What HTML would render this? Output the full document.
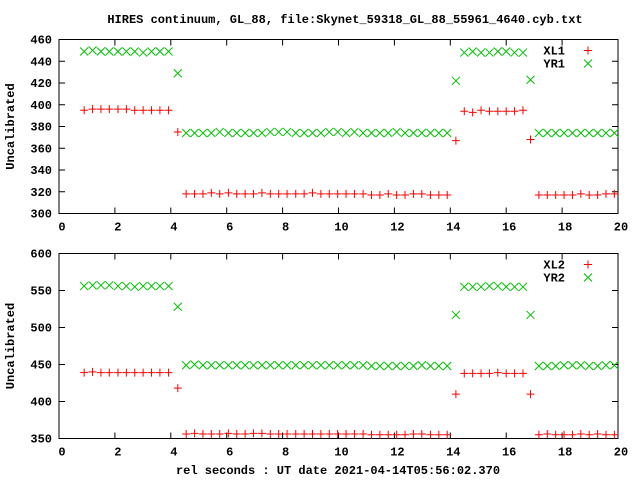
<!DOCTYPE html>
<html><head><meta charset="utf-8"><style>
html,body{margin:0;padding:0;background:#fff;}
svg{display:block;font-family:"Liberation Mono",monospace;font-weight:bold;font-size:12px;}
</style></head><body>
<svg id="chart" width="640" height="480" xmlns="http://www.w3.org/2000/svg">
<text x="345" y="23" text-anchor="middle">HIRES continuum, GL_88, file:Skynet_59318_GL_88_55961_4640.cyb.txt</text>
<text x="338" y="474" text-anchor="middle">rel seconds : UT date 2021-04-14T05:56:02.370</text>
<g id="p1"></g>
<g id="p2"></g>
</svg>
<script>
const times=[0.9,1.2,1.5,1.8,2.11,2.41,2.71,3.01,3.31,3.61,3.92,4.25,4.55,4.85,5.15,5.45,5.75,6.06,6.36,6.66,6.96,7.26,7.56,7.86,8.16,8.47,8.77,9.07,9.37,9.67,9.97,10.27,10.57,10.88,11.18,11.48,11.78,12.08,12.38,12.68,12.98,13.29,13.59,13.89,14.2,14.5,14.8,15.1,15.4,15.7,16.0,16.3,16.6,16.87,17.17,17.47,17.77,18.07,18.37,18.67,18.97,19.27,19.57,19.87];
const xl1=[395,396,396,396,396,396,395,395,395,395,395,375,318,318,318,319,318,319,318,318,318,319,318,318,318,318,318,319,318,318,318,318,318,318,317,317,318,317,317,318,318,317,317,317,367,394,393,395,394,394,394,394,395,368,317,317,317,317,317,318,317,317,318,318];
const yr1=[449,450,449,449,449,449,449,448,449,449,449,429,374,374,374,374,375,374,374,374,374,374,375,375,375,374,374,374,374,375,375,374,375,374,374,374,374,375,374,374,374,374,374,374,422,448,449,448,448,449,449,448,448,423,374,374,374,374,374,374,374,374,374,374];
const xl2=[439,440,439,439,439,439,439,439,439,439,439,418,356,357,356,356,356,357,356,356,357,357,356,356,356,356,356,356,356,356,356,356,356,356,355,355,355,355,355,356,356,355,355,355,410,438,438,438,438,439,438,438,438,410,355,356,355,355,355,356,355,356,355,355];
const yr2=[556,557,557,557,556,556,555,556,556,556,556,528,449,450,449,449,449,449,449,449,449,449,449,449,449,449,449,449,449,449,449,449,449,449,448,448,448,448,448,448,449,448,448,448,517,555,555,555,556,556,555,555,555,517,448,448,448,449,449,449,448,448,449,449];
const xTicks=[0,2,4,6,8,10,12,14,16,18,20];
const yTicks1=[300,320,340,360,380,400,420,440,460];
const yTicks2=[350,400,450,500,550,600];
const NS="http://www.w3.org/2000/svg";
function mk(p,tag,a){const e=document.createElementNS(NS,tag);for(const k in a)e.setAttribute(k,a[k]);p.appendChild(e);return e;}
function panel(g,top,bot,yt,s1,s2,n1,n2){
  const L=59,R=618;
  const X=v=>L+(v-0)/(20-0)*(R-L);
  const ymin=yt[0],ymax=yt[yt.length-1];
  const Y=v=>bot-(v-ymin)/(ymax-ymin)*(bot-top);
  const f=mk(g,'rect',{x:L,y:top,width:R-L,height:bot-top,fill:'none',stroke:'#000','stroke-width':1});
  
  xTicks.forEach(t=>{
    mk(g,'line',{x1:X(t),x2:X(t),y1:bot,y2:bot-6,stroke:'#000'});
    mk(g,'line',{x1:X(t),x2:X(t),y1:top,y2:top+6,stroke:'#000'});
    const tx=mk(g,'text',{x:X(t)+3,y:bot+17,'text-anchor':'middle'});tx.textContent=t;
    
  });
  yt.forEach(t=>{
    mk(g,'line',{x1:L,x2:L+6,y1:Y(t),y2:Y(t),stroke:'#000'});
    mk(g,'line',{x1:R,x2:R-6,y1:Y(t),y2:Y(t),stroke:'#000'});
    const tx=mk(g,'text',{x:L-7,y:Y(t)+4,'text-anchor':'end'});tx.textContent=t;
    
  });
  const yl=mk(g,'text',{x:14,y:(top+bot)/2,'text-anchor':'middle',transform:`rotate(-90 14 ${(top+bot)/2})`});yl.textContent='Uncalibrated';
  
  const plus=(x,y,c)=>{mk(g,'path',{d:`M${x-4},${y}h8M${x},${y-4}v8`,stroke:c,'stroke-width':1,fill:'none'});};
  const cross=(x,y,c)=>{mk(g,'path',{d:`M${x-4},${y-4}l8,8M${x-4},${y+4}l8,-8`,stroke:c,'stroke-width':1,fill:'none'});};
  times.forEach((t,i)=>{plus(X(t),Y(s1[i]),'#f00');cross(X(t),Y(s2[i]),'#00c000');});
  const l1=mk(g,'text',{x:565,y:top+15,'text-anchor':'end'});l1.textContent=n1;
  
  plus(588,top+11,'#f00');
  const l2=mk(g,'text',{x:565,y:top+28,'text-anchor':'end'});l2.textContent=n2;
  
  cross(588,top+24,'#00c000');
}
panel(document.getElementById('p1'),39.5,213.5,yTicks1,xl1,yr1,'XL1','YR1');
panel(document.getElementById('p2'),253.5,438.5,yTicks2,xl2,yr2,'XL2','YR2');
</script>
</body></html>
